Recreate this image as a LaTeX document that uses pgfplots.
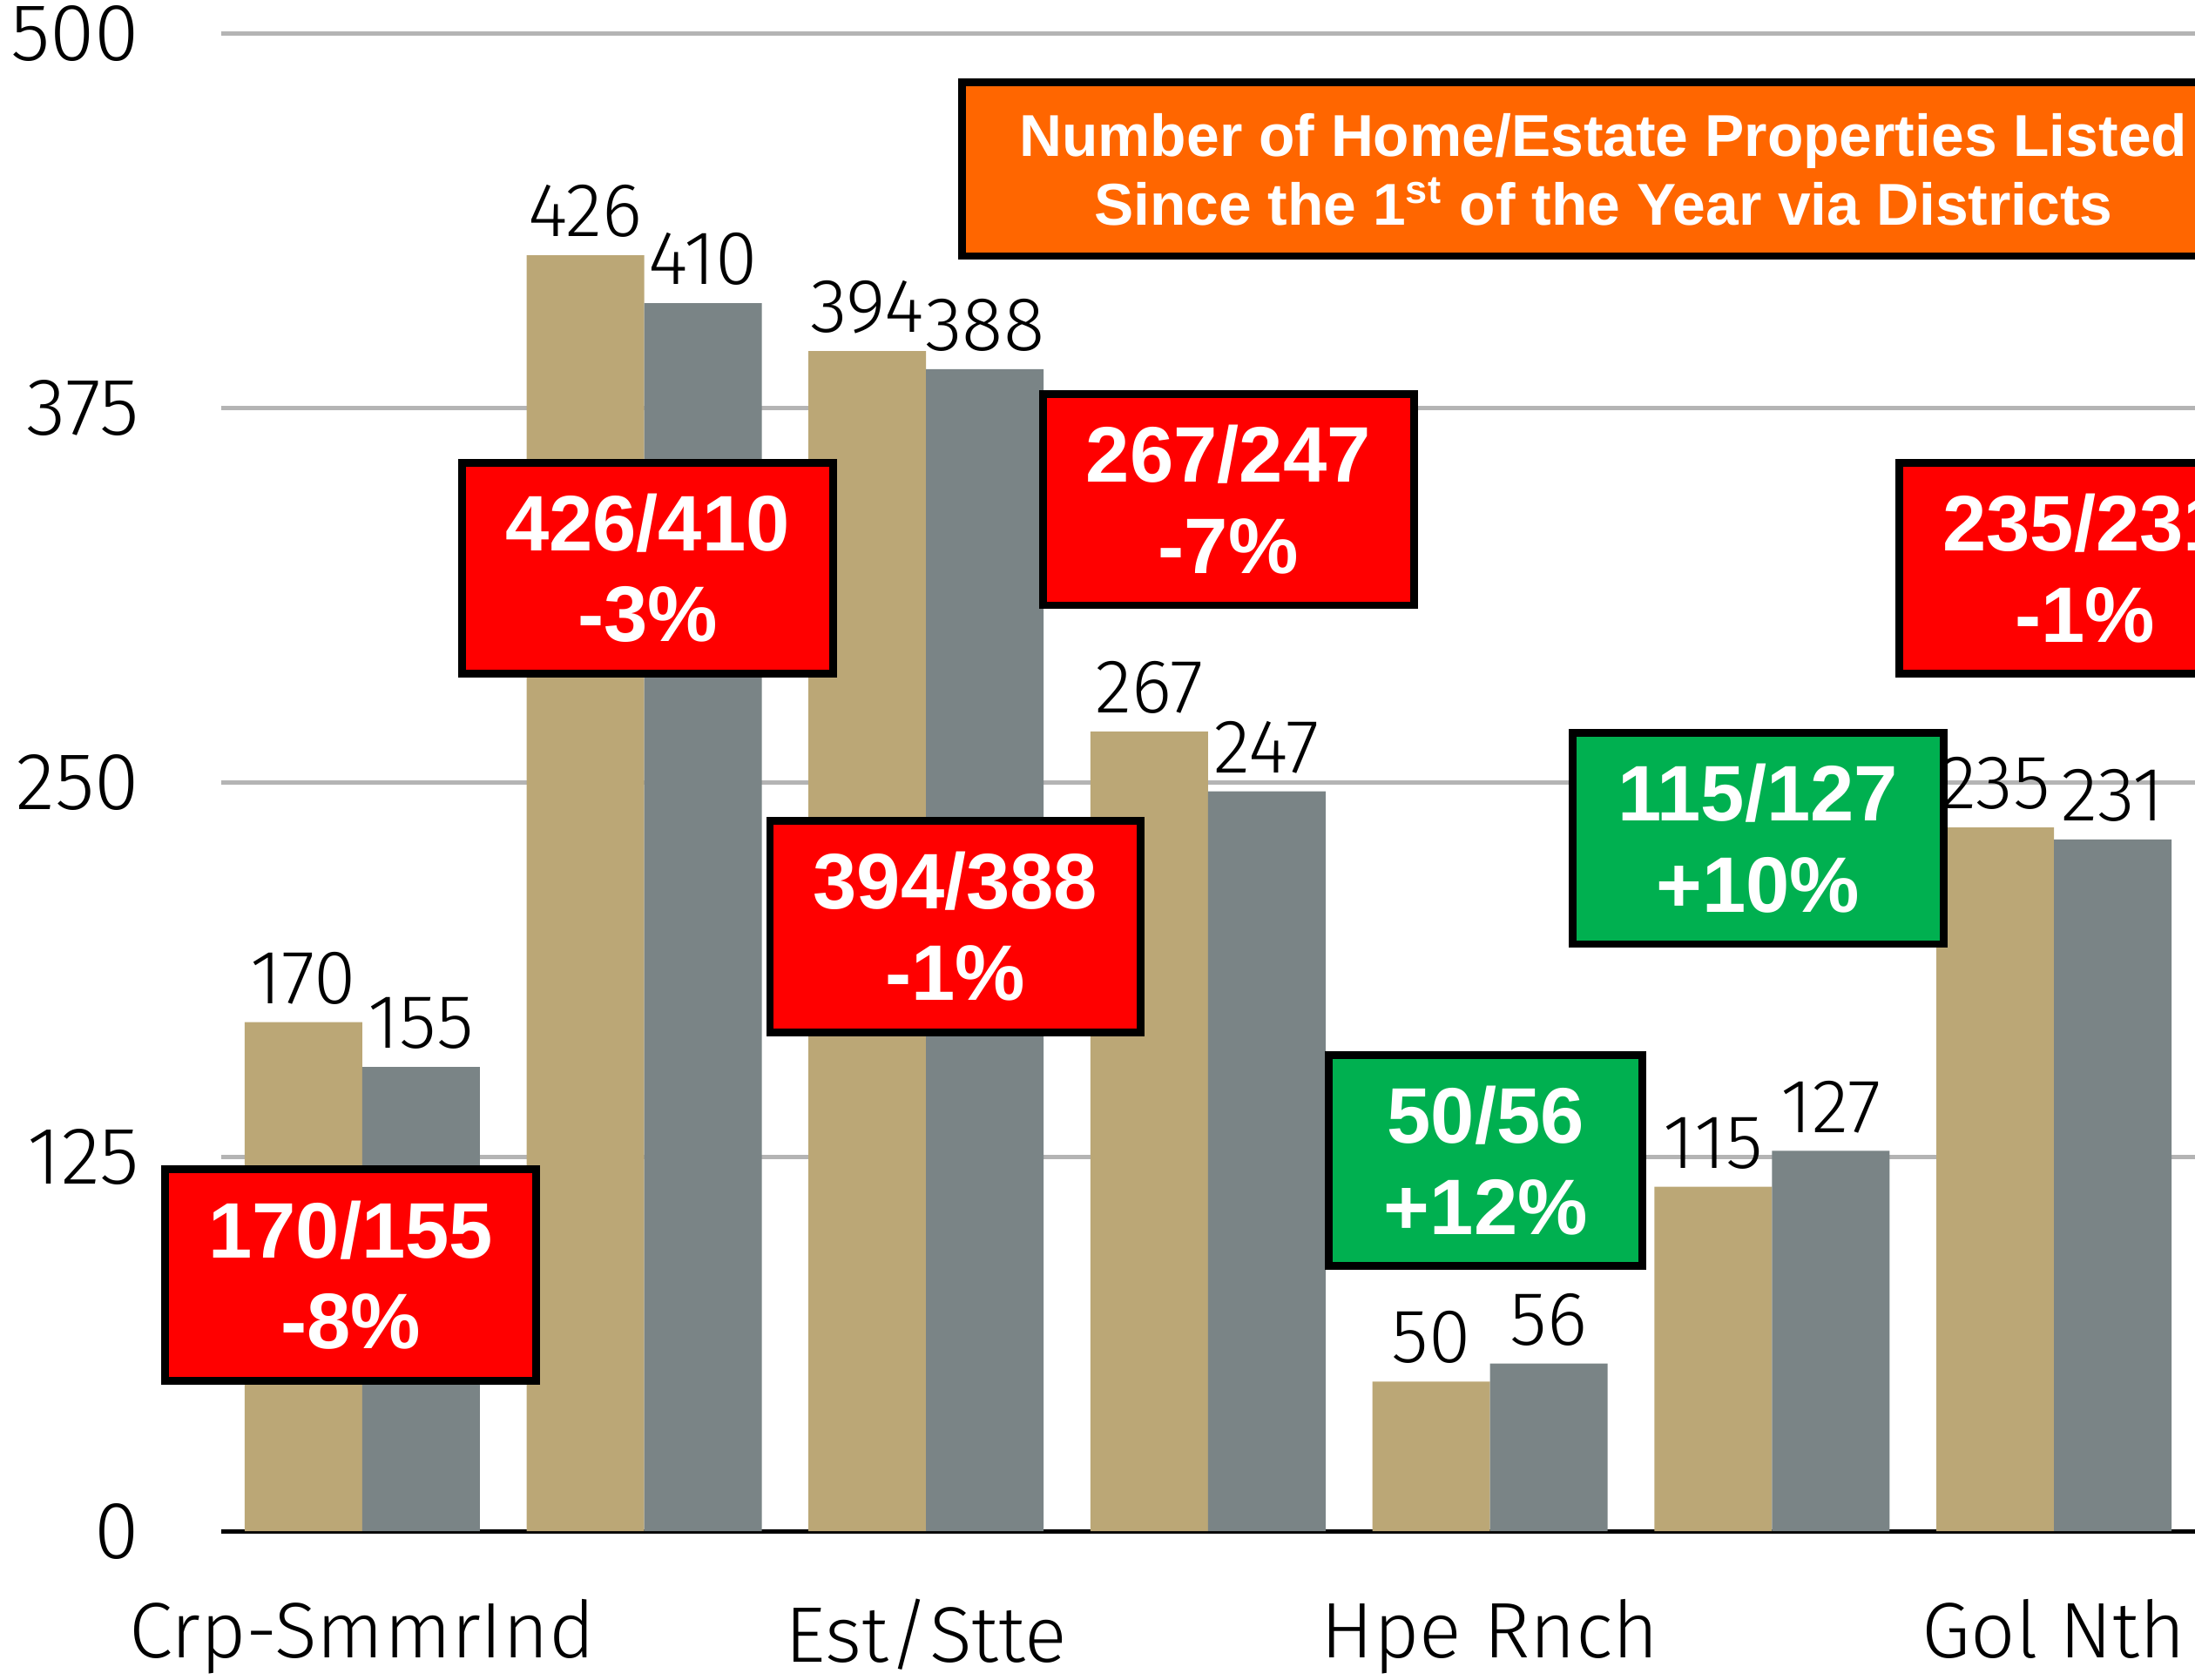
\documentclass[border=0pt]{standalone}
\usepackage{fontspec}
\setmainfont{Liberation Sans}
\newfontfamily\lightfont{Fira Sans Light}
\usepackage{pgfplots}
\pgfplotsset{compat=1.18}
\definecolor{bartan}{HTML}{BBA776}
\definecolor{bargray}{HTML}{7A8486}
\definecolor{boxorange}{HTML}{FF6600}
\definecolor{boxred}{HTML}{FF0000}
\definecolor{boxgreen}{HTML}{00B050}
\definecolor{gridgray}{HTML}{B4B4B4}
\tikzset{box/.style={draw=black, line width=0.55mm, minimum width=26.5mm, minimum height=15.1mm, inner sep=0pt, align=center, text=white, font=\bfseries\fontsize{16}{18.5}\selectfont}}
\begin{document}
\begin{tikzpicture}
\path[use as bounding box] (-15.8mm,-10.6mm) rectangle (141mm,109.4mm);
\clip (-15.8mm,-10.6mm) rectangle (141mm,109.4mm);
\begin{axis}[
  at={(0,0)}, anchor=south west,
  width=141mm, height=107mm, scale only axis,
  clip=false,
  xmin=-0.5, xmax=6.5, ymin=0, ymax=500,
  enlargelimits=false,
  ybar=0pt, bar width=8.4mm,
  ytick={0,125,250,375,500},
  xtick={0,2,4,6},
  xticklabels={Crp-SmmrInd,Est/Stte,Hpe Rnch,Gol Nth},
  axis x line*=bottom, axis y line*=left,
  y axis line style={draw=none},
  x axis line style={black, line width=0.9pt},
  major tick length=0pt,
  ymajorgrids, grid style={gridgray, line width=0.8pt},
  /pgf/number format/assume math mode=true,
  yticklabel style={font=\lightfont\fontsize{16.5}{19}\selectfont, xshift=-4.6mm},
  xticklabel style={font=\lightfont\fontsize{16}{19}\selectfont, yshift=-3.6mm},
  nodes near coords,
  every node near coord/.append style={font=\lightfont\fontsize{15.5}{18}\selectfont, text=black, inner sep=1.2mm},
]
\addplot[fill=bartan, draw=none] coordinates {(0,170) (1,426) (2,394) (3,267) (4,50) (5,115) (6,235)};
\addplot[fill=bargray, draw=none] coordinates {(0,155) (1,410) (2,388) (3,247) (4,56) (5,127) (6,231)};
\node[box, fill=boxred] at (axis cs:-0.04,85.5) {170/155\\-8\%};
\node[box, fill=boxred] at (axis cs:1.012,321.5) {426/410\\-3\%};
\node[box, fill=boxred] at (axis cs:2.104,201.9) {394/388\\-1\%};
\node[box, fill=boxred] at (axis cs:3.072,344.4) {267/247\\-7\%};
\node[box, fill=boxgreen, minimum width=22.4mm] at (axis cs:3.985,123.8) {50/56\\+12\%};
\node[box, fill=boxgreen] at (axis cs:4.95,231.3) {115/127\\+10\%};
\node[box, fill=boxred] at (axis cs:6.11,321.5) {235/231\\-1\%};
\node[box, fill=boxorange, minimum width=91.6mm, minimum height=12.4mm, font=\bfseries\fontsize{12}{14}\selectfont] at (axis cs:4.402,454.7) {Number of Home/Estate Properties Listed\\Since the 1\textsuperscript{st} of the Year via Districts};
\end{axis}
\end{tikzpicture}
\end{document}
